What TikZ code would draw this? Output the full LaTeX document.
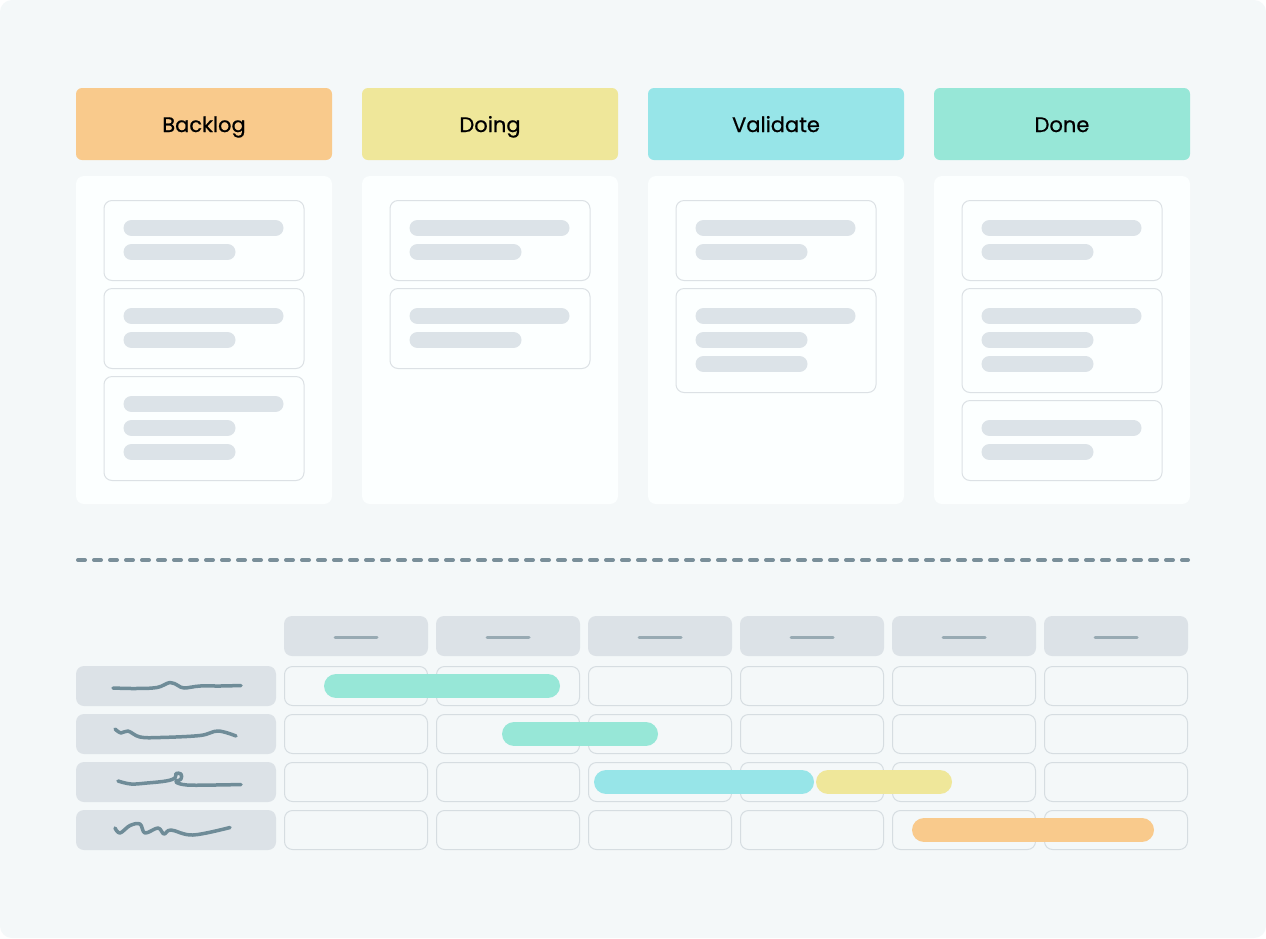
\documentclass[tikz,border=0pt]{standalone}
\usepackage{fontspec}
\setmainfont{Poppins}
\newfontfamily\hdrfont{Poppins}[FakeBold=0.7]
\usetikzlibrary{calc}
\definecolor{pagebg}{HTML}{F4F8F9}
\definecolor{panelbg}{HTML}{FCFFFF}
\definecolor{cborder}{HTML}{DCE1E5}
\definecolor{skel}{HTML}{DCE3E8}
\definecolor{cellfill}{HTML}{DCE2E7}
\definecolor{gridline}{HTML}{D6DDE1}
\definecolor{ink}{HTML}{6F8C98}
\definecolor{dashc}{HTML}{7A8F9A}
\definecolor{tick}{HTML}{98AAB3}
\definecolor{cOrange}{HTML}{F9CA8C}
\definecolor{cYellow}{HTML}{EFE79A}
\definecolor{cCyan}{HTML}{97E5E8}
\definecolor{cTeal}{HTML}{97E7D7}
\tikzset{
  hdr/.style={minimum width=256pt,minimum height=72pt,rounded corners=6pt,inner sep=0pt,text height=20pt,text depth=4pt,font=\hdrfont\fontsize{21}{24}\selectfont,text=black},
  panel/.style={fill=panelbg,minimum width=256pt,minimum height=328pt,rounded corners=8pt,inner sep=0pt},
  kcard/.style={draw=cborder,line width=1pt,fill=panelbg,minimum width=200pt,rounded corners=8pt,inner sep=0pt},
  skelline/.style={draw=skel,line width=16pt,line cap=round},
  hcell/.style={fill=cellfill,minimum width=144pt,minimum height=40pt,rounded corners=8pt,inner sep=0pt},
  gcell/.style={draw=gridline,line width=1pt,minimum width=143pt,minimum height=39pt,rounded corners=8pt,inner sep=0pt},
  lcell/.style={fill=cellfill,minimum width=200pt,minimum height=40pt,rounded corners=8pt,inner sep=0pt},
  scribble/.style={draw=ink,line width=3.5pt,line cap=round,line join=round},
  gbar/.style={line width=24pt,line cap=round},
}
\begin{document}
\begin{tikzpicture}[x=1pt,y=-1pt]
\fill[white] (0,0) rectangle (1266,938);
\fill[pagebg,rounded corners=12pt] (0,0) rectangle (1266,938);
\useasboundingbox (0,0) rectangle (1266,938);

% headers
\node[hdr,fill=cOrange] (hBacklog) at (204,124) {Backlog};
\node[hdr,fill=cYellow] (hDoing) at (490,124) {Doing};
\node[hdr,fill=cCyan] (hValidate) at (776,124) {Validate};
\node[hdr,fill=cTeal] (hDone) at (1062,124) {Done};

% panels
\foreach \cx/\nm in {204/pA,490/pB,776/pC,1062/pD}
  \node[panel] (\nm) at (\cx,340) {};

% cards: center x, top y, number of lines, name
\foreach \cx/\ty/\n/\nm in {204/200/2/cA1,204/288/2/cA2,204/376/3/cA3,
                           490/200/2/cB1,490/288/2/cB2,
                           776/200/2/cC1,776/288/3/cC2,
                           1062/200/2/cD1,1062/288/3/cD2,1062/400/2/cD3}{
  \pgfmathsetmacro{\hh}{\n==2 ? 80 : 104}
  \node[kcard,minimum height=\hh pt,anchor=north] (\nm) at (\cx,\ty) {};
  \draw[skelline] ($(\nm.north west)+(28,28)$) -- ++(144,0);
  \draw[skelline] ($(\nm.north west)+(28,52)$) -- ++(96,0);
  \ifnum\n=3 \draw[skelline] ($(\nm.north west)+(28,76)$) -- ++(96,0); \fi
}

% dashed separator
\coordinate (sepL) at (78,560);
\coordinate (sepR) at (1188,560);
\draw[dashc,line width=4pt,line cap=round,dash pattern=on 7pt off 9pt] (sepL) -- (sepR);

% gantt header
\foreach \i in {0,...,5}{
  \node[hcell] (gh\i) at (356+152*\i,636) {};
  \draw[tick,line width=3pt,line cap=round] ($(gh\i.center)+(-21,1)$) -- ($(gh\i.center)+(21,1)$);
}
% rows
\foreach \r in {0,...,3}{
  \node[lcell] (gl\r) at (176,686+48*\r) {};
  \foreach \i in {0,...,5}
    \node[gcell] (g\r\i) at (356+152*\i,686+48*\r) {};
}

% scribbles
\draw[scribble] plot[smooth,tension=0.6] coordinates {(113,688) (135,688.5) (157,687.5) (170,682.5) (178,685.5) (184,688) (200,686) (220,686) (241,685.5)};
\draw[scribble] plot[smooth,tension=0.6] coordinates {(115,729) (121,733) (128,731) (140,737) (160,737.5) (200,735.5) (218,731) (236,736)};
\draw[scribble] plot[smooth,tension=0.6] coordinates {(118,781) (131,784) (147,783) (166,781) (175,778) (176,773.5) (181,774) (181,779) (176,782) (187,785) (215,785) (241,784.5)};
\draw[scribble] plot[smooth,tension=0.6] coordinates {(115,828) (120,833) (130,825.5) (140,824) (145,833) (158,828) (164,834) (171,830) (193,835) (230,827.5)};

% bars
\draw[gbar,cTeal] (336,686) -- (548,686);
\draw[gbar,cTeal] (514,734) -- (646,734);
\draw[gbar,cYellow] (828,782) -- (940,782);
\draw[gbar,cCyan] (606,782) -- (802,782);
\draw[gbar,cOrange] (924,830) -- (1142,830);
\end{tikzpicture}
\end{document}
